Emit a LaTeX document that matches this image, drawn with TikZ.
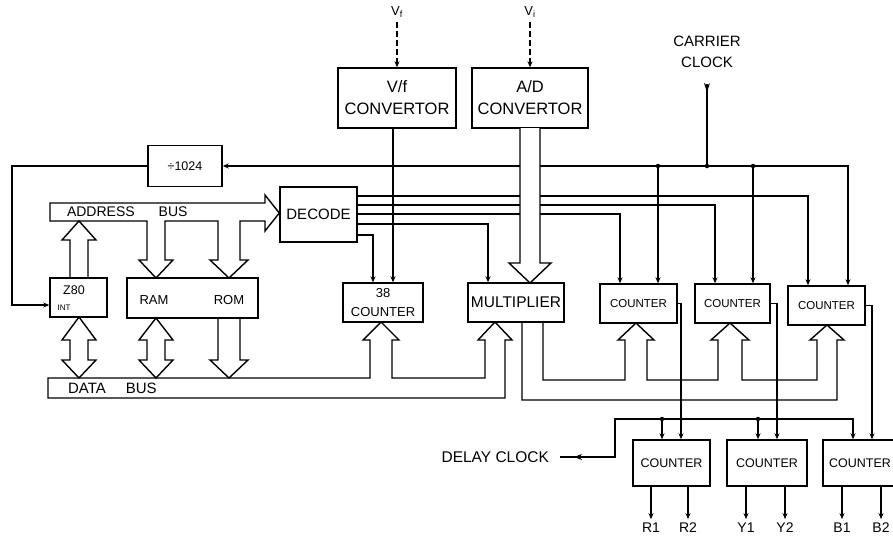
\documentclass[tikz,border=0pt]{standalone}
\usepackage{fontspec}
\setmainfont{Liberation Sans}
\usetikzlibrary{arrows.meta,decorations.markings,calc}
\begin{document}
\begin{tikzpicture}[x=1pt,y=-1pt,line width=1.4pt,line join=miter,
  box/.style={draw,inner sep=0pt,line width=1.4pt},
  arr/.style={-{Stealth[length=6pt,width=5pt]}},
  fs/.style={font=\fontsize{#1}{#1}\selectfont},
  fl/.style 2 args={font=\fontsize{#1}{#2}\selectfont},
  jdot/.style={circle,fill,inner sep=0pt,minimum size=4.5pt},
  downmark/.style={postaction={decorate},decoration={markings,mark=at position 0.1 with {\arrow{Stealth[length=9pt,width=6pt]}}}},
]
\useasboundingbox (0,0) rectangle (893,536);
\clip (0,0) rectangle (893,536);

% ---------- boxes ----------
\node[box,minimum width=118pt,minimum height=60pt,align=center,fl={16.5}{22}] (vf) at (397,98) {V/f\\CONVERTOR};
\node[box,minimum width=116pt,minimum height=60pt,align=center,fl={16.5}{22}] (ad) at (530,98) {A/D\\CONVERTOR};
\node[box,minimum width=74pt,minimum height=41pt,fs=12.5] (div) at (185,166) {÷1024};
\node[box,minimum width=77pt,minimum height=55pt,fs=15] (dec) at (318.5,214.5) {DECODE};
\node[box,minimum width=57pt,minimum height=39pt] (z80) at (78.5,297.5) {};
\node[fs=12.5] at (74,290) {Z80};
\node[fs=8] at (64,308) {INT};
\node[box,minimum width=131pt,minimum height=40pt] (mem) at (192.5,298) {};
\node[fs=13] (ram) at (154,300) {RAM};
\node[fs=13] (rom) at (229,300) {ROM};
\node[box,minimum width=80pt,minimum height=39pt,align=center,fl={13}{19}] (c38) at (383,302.5) {38\\COUNTER};
\node[box,minimum width=96pt,minimum height=39pt,fs=15.5] (mul) at (516,302.5) {MULTIPLIER};
\node[box,minimum width=77pt,minimum height=39pt,fs=11.5] (c1) at (638.5,303.5) {COUNTER};
\node[box,minimum width=75pt,minimum height=39pt,fs=11.5] (c2) at (732.5,303.5) {COUNTER};
\node[box,minimum width=77pt,minimum height=39pt,fs=11.5] (c3) at (826.5,305.5) {COUNTER};
\node[box,minimum width=77pt,minimum height=46pt,fs=12.5] (r) at (671.5,463) {COUNTER};
\node[box,minimum width=80pt,minimum height=46pt,fs=12.5] (y) at (767,463) {COUNTER};
\node[box,minimum width=74pt,minimum height=46pt,fs=12.5] (b) at (860,463) {COUNTER};

% ---------- labels ----------
\node[fs=13] (vfin) at (397,12) {V\textsubscript{f}};
\node[fs=13] (adin) at (530,12) {V\textsubscript{i}};
\node[align=center,fl={15}{21}] (cc) at (707,52) {CARRIER\\CLOCK};
\node[anchor=east,fs=15.5] (dl) at (553,457) {DELAY CLOCK};
\node[fs=14] (r1) at (651,528) {R1};
\node[fs=14] (r2) at (688,528) {R2};
\node[fs=14] (y1) at (746,528) {Y1};
\node[fs=14] (y2) at (785,528) {Y2};
\node[fs=14] (b1) at (842,528) {B1};
\node[fs=14] (b2) at (881,528) {B2};

% ---------- inputs ----------
\draw[arr,dash pattern=on 6pt off 3pt] (vfin) -- (vf.north);
\draw[arr,dash pattern=on 6pt off 3pt] (adin) -- (ad.north);
\draw[arr] (vf.south -| 393,0) -- (c38.north -| 393,0);

% ---------- decode outputs ----------
\draw[arr] (dec.east |- 0,196) -| (c3.north -| 808,0);
\draw[arr] (dec.east |- 0,205) -| (c2.north -| 715,0);
\draw[arr] (dec.east |- 0,214) -| (c1.north -| 620,0);
\draw[arr] (dec.east |- 0,224) -| (mul.north -| 488,0);
\draw[arr] (dec.east |- 0,235) -| (c38.north -| 373,0);

% ---------- carrier clock ----------
\coordinate (j1) at (658,166);
\coordinate (j2) at (707,166);
\coordinate (j3) at (753,166);
\draw[downmark] ($(cc.south)+(0,12)$) -- (j2);
\draw[arr] (j2) -- (div.east);
\draw[arr] (j2) -| (c3.north -| 848,0);
\draw[arr] (j1) -- (c1.north -| j1);
\draw[arr] (j3) -- (c2.north -| j3);
\node[jdot] at (j1) {};
\node[jdot] at (j2) {};
\node[jdot] at (j3) {};
\draw[arr] (div.west) -- (12,166) |- (z80.west |- 0,305);

% ---------- address bus ----------
\draw[fill=white] (50,203) -- (265,203) -- (265,195) -- (dec.west |- 0,213) -- (265,231) -- (265,221)
  -- (240,221) -- (240,260) -- (248,260) -- (229,278) -- (210,260) -- (218,260) -- (218,221)
  -- (165,221) -- (165,260) -- (173,260) -- (156,278) -- (139,260) -- (147,260) -- (147,221)
  -- (50,221) -- cycle;
\node[anchor=west,fs=14] (ab) at (63,212) {ADDRESS\hspace{24pt}BUS};
\draw (70,278) -- (70,240) -- (62,240) -- (79,221) -- (96,240) -- (88,240) -- (88,278);

% ---------- data bus ----------
\draw (48,378) -- (370,378) -- (370,340) -- (363,340) -- (381,322) -- (399,340) -- (392,340) -- (392,378)
  -- (485,378) -- (485,340) -- (478,340) -- (495,322) -- (512,340) -- (505,340) -- (505,398)
  -- (48,398) -- cycle;
\node[anchor=west,fs=15] (db) at (64,388) {DATA\hspace{20pt}BUS};
\draw (70,340) -- (62,340) -- (79,317) -- (96,340) -- (88,340) -- (88,360) -- (96,360) -- (79,378) -- (62,360) -- (70,360) -- cycle;
\draw (147,340) -- (139,340) -- (156,318) -- (173,340) -- (165,340) -- (165,360) -- (173,360) -- (156,378) -- (139,360) -- (147,360) -- cycle;
\draw (218,318) -- (218,360) -- (210,360) -- (229,378) -- (248,360) -- (240,360) -- (240,318);

% ---------- multiplier output bus ----------
\draw (543,322) -- (543,380) -- (625,380) -- (625,340) -- (618,340) -- (636,323) -- (654,340) -- (647,340) -- (647,380)
  -- (718,380) -- (718,340) -- (711,340) -- (730,323) -- (749,340) -- (742,340) -- (742,380)
  -- (817,380) -- (817,340) -- (810,340) -- (827,325) -- (844,340) -- (837,340) -- (837,400)
  -- (522,400) -- (522,322);

% ---------- A/D to multiplier ----------
\draw[fill=white] (520,128) -- (520,263) -- (509,263) -- (530,283) -- (551,263) -- (540,263) -- (540,128);

% ---------- counter outputs ----------
\draw[arr] (c1.east) -| (r.north -| 681,0);
\draw[arr] (c2.east) -| (y.north -| 777,0);
\draw[arr] (c3.east) -| (b.north -| 872,0);

% ---------- delay clock ----------
\coordinate (d1) at (662,419);
\coordinate (d2) at (758,419);
\draw[arr] ($(dl.east)+(7,0)$) -- (615,457) -- (615,419) -| (b.north -| 853,0);
\draw[{Stealth[length=8pt,width=6pt]}-] (574,457) -- (590,457);
\draw[arr] (d1) -- (r.north -| d1);
\draw[arr] (d2) -- (y.north -| d2);
\node[jdot] at (d1) {};
\node[jdot] at (d2) {};

% ---------- final outputs ----------
\draw[arr] (r.south -| r1) -- (r1);
\draw[arr] (r.south -| r2) -- (r2);
\draw[arr] (y.south -| y1) -- (y1);
\draw[arr] (y.south -| y2) -- (y2);
\draw[arr] (b.south -| b1) -- (b1);
\draw[arr] (b.south -| b2) -- (b2);
\end{tikzpicture}
\end{document}
